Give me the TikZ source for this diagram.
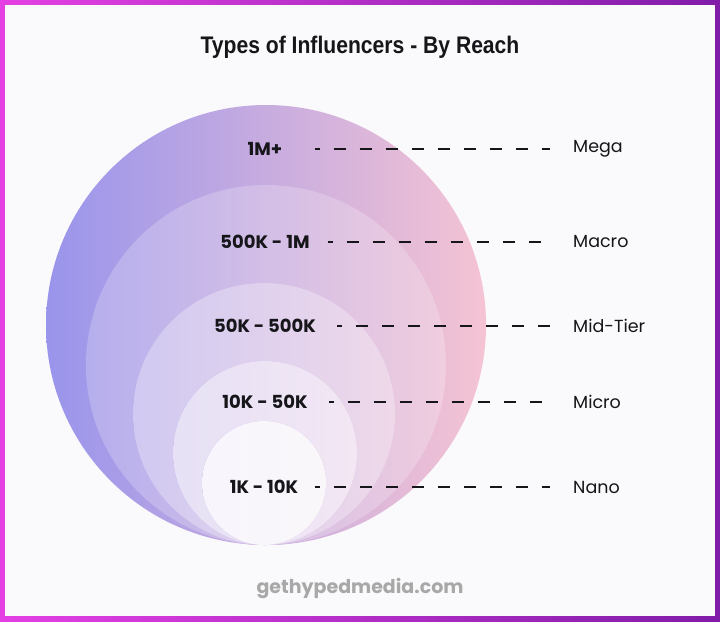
\documentclass[tikz,border=0pt]{standalone}
\usepackage{fontspec}
\setmainfont{Poppins}
\newfontfamily\titlefont[FakeStretch=0.88]{Liberation Sans}
\definecolor{framel}{RGB}{228,64,228}
\definecolor{framer}{RGB}{128,28,168}
\definecolor{bgcol}{RGB}{250,249,251}
\definecolor{cl}{RGB}{152,148,236}
\definecolor{cr}{RGB}{246,196,211}
\definecolor{ink}{RGB}{22,22,26}
\definecolor{foot}{RGB}{168,168,168}
\tikzset{
  rng/.style={font=\fontsize{18}{18}\selectfont\bfseries, text=ink, inner sep=0pt},
  cat/.style={font=\fontsize{17.5}{17.5}\selectfont, text=ink, inner sep=0pt, anchor=west},
  dl/.style={draw=ink, line width=1.8pt, dash pattern=on 12pt off 14pt, dash phase=7pt}
}
\newcommand{\ring}[4]{%
  \begin{scope}
    \clip (#1,#2) circle[radius=#3pt];
    \shade[left color=cl, right color=cr] (42,100) rectangle (490,550);
    \fill[white, opacity=#4] (40,100) rectangle (492,550);
  \end{scope}}
\begin{document}
\begin{tikzpicture}[x=1pt,y=-1pt]
\useasboundingbox (0,0) rectangle (720,621);
\shade[left color=framel, right color=framer] (0,0) rectangle (720,621);
\fill[bgcol] (5,5) rectangle (715,616);
\node[font=\titlefont\fontsize{24}{24}\selectfont\bfseries, text=ink, inner sep=0pt] (title) at (360,47) {Types of Influencers - By Reach};
\ring{266}{325}{220}{0}
\ring{266}{365}{180}{0.22}
\ring{264}{414}{131}{0.45}
\ring{265}{453}{92}{0.68}
\ring{264}{483}{62}{0.9}
\node[rng] (l1) at (265,149) {1M+};
\node[rng] (l2) at (265,242) {500K - 1M};
\node[rng] (l3) at (265,326) {50K - 500K};
\node[rng] (l4) at (265,402) {10K - 50K};
\node[rng] (l5) at (264,487) {1K - 10K};
\node[cat] (r1) at (573,149) {Mega};
\node[cat] (r2) at (573,242) {Macro};
\node[cat] (r3) at (573,326) {Mid-Tier};
\node[cat] (r4) at (573,402) {Micro};
\node[cat] (r5) at (573,487) {Nano};
\draw[dl] ([xshift=32pt]l1.east) -- ([xshift=-23pt]r1.west);
\draw[dl] ([xshift=18pt]l2.east) -- ([xshift=-23pt]r2.west);
\draw[dl] ([xshift=21pt]l3.east) -- ([xshift=-23pt]r3.west);
\draw[dl] ([xshift=21pt]l4.east) -- ([xshift=-23pt]r4.west);
\draw[dl] ([xshift=17pt]l5.east) -- ([xshift=-23pt]r5.west);
\node[font=\fontsize{19}{19}\selectfont\bfseries, text=foot, inner sep=0pt] (footer) at (360,588) {gethypedmedia.com};
\end{tikzpicture}
\end{document}
